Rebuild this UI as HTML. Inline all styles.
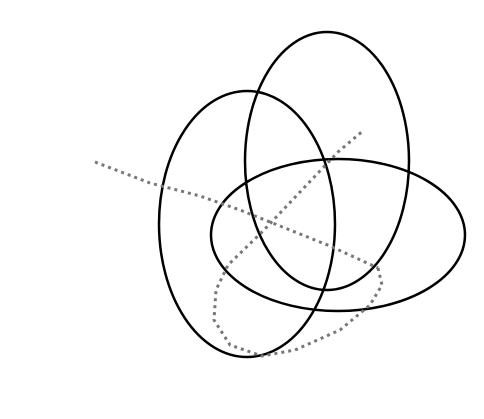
<!DOCTYPE html>
<html><head><meta charset="utf-8"><style>
html,body{margin:0;padding:0;background:#fff;width:484px;height:419px;overflow:hidden;font-family:"Liberation Sans",sans-serif}
</style></head><body>
<svg id="chart" width="484" height="419" viewBox="0 0 484 419" xmlns="http://www.w3.org/2000/svg"></svg>
<script>
const ellipseCx = [247, 327, 338];
const ellipseCy = [224, 161, 235];
const ellipseRx = [88, 82, 127];
const ellipseRy = [133, 129, 76];
const lineX = [95, 150, 200, 240, 290, 330, 378];
const lineY = [162, 183, 196, 210, 230, 246, 268];
const loopX = [378, 382, 370, 340, 295, 262, 230, 214, 216, 228, 262, 300, 338, 364];
const loopY = [268, 285, 305, 330, 350, 356, 345, 320, 290, 265, 232, 192, 152, 130];
const svg = document.getElementById('chart');
const NS = 'http://www.w3.org/2000/svg';
for (let i = 0; i < ellipseCx.length; i++) {
  const e = document.createElementNS(NS, 'ellipse');
  
  
  e.setAttribute('cx', ellipseCx[i]); e.setAttribute('cy', ellipseCy[i]);
  e.setAttribute('rx', ellipseRx[i]); e.setAttribute('ry', ellipseRy[i]);
  e.setAttribute('fill', 'none'); e.setAttribute('stroke', '#000'); e.setAttribute('stroke-width', '2.5');
  svg.appendChild(e);
}
function addPath(xs, ys, name) {
  let d = '';
  for (let i = 0; i < xs.length; i++) d += (i ? 'L' : 'M') + xs[i] + ' ' + ys[i];
  const p = document.createElementNS(NS, 'path');
  
  
  p.setAttribute('d', d);
  p.setAttribute('fill', 'none'); p.setAttribute('stroke', '#777');
  p.setAttribute('stroke-width', '3'); p.setAttribute('stroke-dasharray', '3 4');
  svg.appendChild(p);
}
addPath(lineX, lineY, 'scatter-trail-line');
addPath(loopX, loopY, 'scatter-trail-loop');
</script>
</body></html>
